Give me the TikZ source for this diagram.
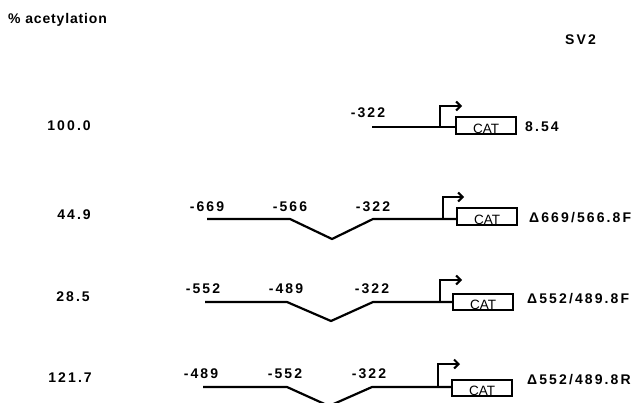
\documentclass[tikz,border=0pt]{standalone}
\usepackage{fontspec}
\setmainfont{Liberation Sans}
\newfontfamily\lblfont[LetterSpace=15]{Liberation Sans}
\newfontfamily\hdrfont[LetterSpace=6]{Liberation Sans}
\usetikzlibrary{arrows.meta}
\tikzset{
  dna/.style={line width=2.2pt, line join=miter},
  prom/.style={line width=2pt, -{Straight Barb[length=4.5pt,width=9pt,line width=2pt]}},
  catbox/.style={draw, line width=1.8pt, minimum width=60pt, inner sep=0pt},
  cattext/.style={font=\fontsize{13.5}{13.5}\selectfont, anchor=base, inner sep=0pt},
  num/.style={font=\lblfont\bfseries\fontsize{14}{14}\selectfont, inner sep=0pt},
  poslbl/.style={font=\lblfont\bfseries\fontsize{14}{14}\selectfont, inner sep=0pt},
}
\begin{document}
\begin{tikzpicture}[x=1pt,y=-1pt]
\useasboundingbox (0,0) rectangle (636,402);
\clip (0,0) rectangle (636,402);
% headers
\node[anchor=west, inner sep=0pt, font=\hdrfont\bfseries\fontsize{14}{14}\selectfont] (hdr) at (8,20) {\% acetylation};
\node[anchor=west, num] (sv2) at (565,40) {SV2};
% ---------- row 1
\node[anchor=east, num] (v1) at (91,126) {100.0};
\node[poslbl] (p1a) at (368,113) {-322};
\coordinate (r1a) at (372,127);
\coordinate (r1p) at (440,127);
\coordinate (r1t) at (440,106);
\coordinate (r1e) at (462,106);
\node[catbox, minimum height=17pt] (b1) at (486,125.5) {};
\node[cattext] (c1) at ([yshift=1.5pt]b1.south) {CAT};
\node[anchor=west, num] (n1) at (525,127) {8.54};
\draw[dna] (r1a) -- (r1p) -- (r1p -| b1.west);
\draw[prom] (r1p) -- (r1t) -- (r1e);
% ---------- row 2
\node[anchor=east, num] (v2) at (91,215) {44.9};
\node[poslbl] (p2a) at (207,207) {-669};
\node[poslbl] (p2b) at (290,207) {-566};
\node[poslbl] (p2c) at (373,207) {-322};
\coordinate (r2a) at (207,219);
\coordinate (r2b) at (290,219);
\coordinate (r2c) at (332,239);
\coordinate (r2d) at (373,219);
\coordinate (r2p) at (443,219);
\coordinate (r2t) at (443,197);
\coordinate (r2e) at (464,197);
\node[catbox, minimum height=17pt] (b2) at (487,216.5) {};
\node[cattext] (c2) at ([yshift=1.5pt]b2.south) {CAT};
\node[anchor=west, num] (n2) at (529,218) {Δ669/566.8F};
\draw[dna] (r2a) -- (r2b) -- (r2c) -- (r2d) -- (r2p) -- (r2p -| b2.west);
\draw[prom] (r2p) -- (r2t) -- (r2e);
% ---------- row 3
\node[anchor=east, num] (v3) at (90,297) {28.5};
\node[poslbl] (p3a) at (203,289) {-552};
\node[poslbl] (p3b) at (286,289) {-489};
\node[poslbl] (p3c) at (372,289) {-322};
\coordinate (r3a) at (205,302);
\coordinate (r3b) at (287,302);
\coordinate (r3c) at (331,321);
\coordinate (r3d) at (373,302);
\coordinate (r3p) at (440,302);
\coordinate (r3t) at (440,280);
\coordinate (r3e) at (462,280);
\node[catbox, minimum height=16pt] (b3) at (483,302) {};
\node[cattext] (c3) at ([yshift=1.5pt]b3.south) {CAT};
\node[anchor=west, num] (n3) at (527,299) {Δ552/489.8F};
\draw[dna] (r3a) -- (r3b) -- (r3c) -- (r3d) -- (r3p) -- (r3p -| b3.west);
\draw[prom] (r3p) -- (r3t) -- (r3e);
% ---------- row 4
\node[anchor=east, num] (v4) at (92,378) {121.7};
\node[poslbl] (p4a) at (201,374) {-489};
\node[poslbl] (p4b) at (285,374) {-552};
\node[poslbl] (p4c) at (369,374) {-322};
\coordinate (r4a) at (203,387);
\coordinate (r4b) at (287,387);
\coordinate (r4c) at (329,406);
\coordinate (r4d) at (372,387);
\coordinate (r4p) at (438,387);
\coordinate (r4t) at (438,364);
\coordinate (r4e) at (460,364);
\node[catbox, minimum height=16pt] (b4) at (482,388) {};
\node[cattext] (c4) at ([yshift=1.5pt]b4.south) {CAT};
\node[anchor=west, num] (n4) at (527,380) {Δ552/489.8R};
\draw[dna] (r4a) -- (r4b) -- (r4c) -- (r4d) -- (r4p) -- (r4p -| b4.west);
\draw[prom] (r4p) -- (r4t) -- (r4e);
\end{tikzpicture}
\end{document}
